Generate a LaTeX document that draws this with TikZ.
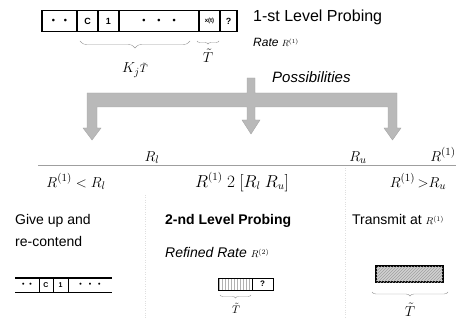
\documentclass[tikz,border=0pt]{standalone}
\usepackage{fontspec}
\setmainfont{Liberation Sans}
\usepackage{amsmath}
\usetikzlibrary{positioning,decorations.pathreplacing,patterns}

\tikzset{
  slot/.style={draw, line width=1.1pt, outer sep=0pt, inner sep=0pt,
    minimum height=21pt, font=\bfseries\fontsize{9}{9}\selectfont},
  lowslot/.style={outer sep=0pt, inner sep=0pt, minimum height=14pt,
    font=\bfseries\fontsize{7}{7}\selectfont},
  tbrace/.style={decorate, decoration={brace, amplitude=#1, mirror}, gray!80, thin},
  txt/.style={inner sep=0pt, font=\fontsize{14}{14}\selectfont},
  mth/.style={inner sep=0pt, font=\fontsize{15}{15}\selectfont},
}

\begin{document}
\begin{tikzpicture}[x=1pt, y=-1pt]

    \useasboundingbox (0,0) rectangle (464,321);

    % First level probing frame
    \node[slot, minimum width=35pt] (s1) at (59.5,21) {\textbullet\hspace{9pt}\textbullet};
    \node[slot, minimum width=21pt, right=0pt of s1] (s2) {C};
    \node[slot, minimum width=21pt, right=0pt of s2] (s3) {1};
    \node[slot, minimum width=80pt, right=0pt of s3] (s4) {\textbullet\hspace{12pt}\textbullet\hspace{12pt}\textbullet};
    \node[slot, minimum width=21pt, right=0pt of s4] (s5) {\fontsize{6}{6}\selectfont x(t)};
    \node[slot, minimum width=17pt, right=0pt of s5] (s6) {?};

    % Braces under the frame
    \coordinate (kL) at (80,41);
    \coordinate (kR) at (190,41);
    \draw[tbrace=7pt] (kL) -- (kR);
    \node[mth] (kt) at (135,70) {$K_j{\scriptstyle\tilde{T}}$};

    \coordinate (tL) at (197,41);
    \coordinate (tR) at (219,41);
    \draw[tbrace=3pt] (tL) -- (tR);
    \node[mth] (tt) at (208,56) {$\tilde{T}$};

    % Texts on the right
    \node[anchor=base west, inner sep=0pt, font=\fontsize{16}{16}\selectfont] (lvl1) at (253,22) {1-st Level Probing};
    \node[anchor=base west, inner sep=0pt, font=\itshape\fontsize{12}{12}\selectfont] (rate1) at (253,47) {Rate {\fontsize{9}{9}\selectfont$R^{(1)}$}};
    \node[anchor=base west, inner sep=0pt, font=\itshape\fontsize{15}{15}\selectfont] (poss) at (272,83) {Possibilities};

    % Gray arrows
    \fill[gray!55, draw=gray!70]
        (247,78) -- (255,78) -- (255,93) -- (397,93) -- (397,128) -- (401,128)
        -- (392.5,140) -- (384,128) -- (388,128) -- (388,107) -- (255,107)
        -- (255,120) -- (260,120) -- (251,134) -- (242,120) -- (247,120)
        -- (247,107) -- (97,107) -- (97,128) -- (101,128) -- (92,140)
        -- (83,128) -- (87,128) -- (87,93) -- (247,93) -- cycle;

    % Axis
    \draw[gray!75, line width=0.9pt] (38,165) -- (456,165);
    \node[mth, anchor=base] (rl) at (152,161) {$R_l$};
    \node[mth, anchor=base] (ru) at (358,161) {$R_u$};
    \node[mth, anchor=base] (r1) at (443,161) {$R^{(1)}$};

    % Faint separators
    \draw[gray!25, dotted] (145,195) -- (145,318);
    \draw[gray!25, dotted] (345,168) -- (345,318);

    % Cases
    \node[mth, anchor=base] (c1) at (76,187) {$R^{(1)} < R_l$};
    \node[mth, anchor=base, font=\fontsize{16}{16}\selectfont] (c2) at (242,187) {$R^{(1)}\ 2\ [R_l\ R_u]$};
    \node[mth, anchor=base] (c3) at (418,187) {$R^{(1)}\,{>}R_u$};

    \node[txt, anchor=base west] (giveup) at (15,225) {Give up and};
    \node[txt, anchor=base west] (recont) at (15,247) {re-contend};
    \node[txt, anchor=base west, font=\bfseries\fontsize{14}{14}\selectfont] (lvl2) at (165,225) {2-nd Level Probing};
    \node[txt, anchor=base west, font=\itshape\fontsize{14}{14}\selectfont] (rate2) at (165,258) {Refined Rate {\fontsize{10}{10}\selectfont$R^{(2)}$}};
    \node[txt, anchor=base west] (trans) at (352,225) {Transmit at {\fontsize{10}{10}\selectfont$R^{(1)}$}};

    % Re-contend frame
    \node[lowslot, minimum width=24pt] (b1) at (27,285) {\textbullet\hspace{5pt}\textbullet};
    \node[lowslot, minimum width=14pt, right=0pt of b1] (b2) {C};
    \node[lowslot, minimum width=15pt, right=0pt of b2] (b3) {1};
    \node[lowslot, minimum width=44pt, right=0pt of b3] (b4) {\textbullet\hspace{7pt}\textbullet\hspace{7pt}\textbullet};
    \draw[line width=1.2pt] (b1.north west) -- (b4.north east);
    \draw[line width=0.8pt] (b1.south west) -- (b4.south east);
    \foreach \c in {b2,b3,b4}
        \draw[line width=0.8pt] (\c.north west) -- (\c.south west);

    % Second level probing frame
    \node[draw, line width=1pt, outer sep=0pt, minimum width=34pt, minimum height=12pt,
        pattern=vertical lines, pattern color=gray!60] (p1) at (235,284) {};
    \node[draw, line width=1pt, outer sep=0pt, minimum width=21pt, minimum height=12pt,
        inner sep=0pt, font=\bfseries\fontsize{8}{8}\selectfont, right=0pt of p1] (p2) {?};
    \coordinate (pL) at (220,295);
    \coordinate (pR) at (251,295);
    \draw[tbrace=3pt] (pL) -- (pR);
    \node[mth, font=\fontsize{11}{11}\selectfont] (pt) at (236,308) {$\tilde{T}$};

    % Transmission frame
    \node[draw, line width=1.2pt, outer sep=0pt, minimum width=67pt, minimum height=16pt,
        fill=gray!35, postaction={pattern=north east lines, pattern color=gray!75}] (tx) at (409.5,274) {};
    \coordinate (xL) at (372,292);
    \coordinate (xR) at (448,292);
    \draw[tbrace=4pt] (xL) -- (xR);
    \node[mth] (xt) at (410,310) {$\tilde{T}$};

\end{tikzpicture}
\end{document}
